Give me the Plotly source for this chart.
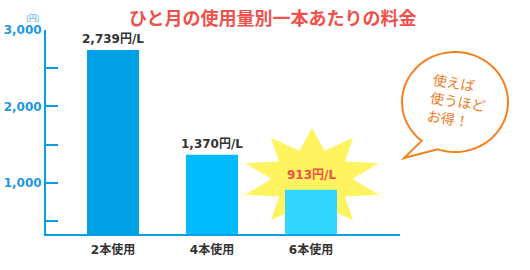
import math
import plotly.graph_objects as go

W, H = 530, 270

categories = ["2本使用", "4本使用", "6本使用"]
prices = [2739, 1370, 913]
price_labels = ["2,739円/L", "1,370円/L", "913円/L"]
bar_colors = ["#00a0e6", "#00bbff", "#33d6ff"]
label_colors = ["#333333", "#333333", "#f0504b"]
y_tickvals = [1000, 2000, 3000]
y_ticktext = ["1,000", "2,000", "3,000"]
title_text = "ひと月の使用量別一本あたりの料金"
unit_text = "(円)"
bubble_text = "使えば<br>使うほど<br>お得！"

AXIS = "#0a9fe3"
TICKFONT = "#1d97e0"
CJK = "DejaVu Sans, Noto Sans CJK JP"


def px(x, y):
    return x / W, 1 - y / H


def path_from(points, close=True):
    s = ""
    for i, (x, y) in enumerate(points):
        fx, fy = px(x, y)
        s += ("M" if i == 0 else "L") + f"{fx:.5f},{fy:.5f} "
    return s + ("Z" if close else "")


fig = go.Figure()
fig.add_trace(go.Bar(
    x=categories, y=prices, marker=dict(color=bar_colors, line=dict(width=0)),
    width=0.525, hoverinfo="skip", showlegend=False,
))

for c, v, t, col in zip(categories, prices, price_labels, label_colors):
    fig.add_annotation(
        x=c, y=v, text=t, showarrow=False, xanchor="center", yanchor="bottom",
        yshift=(6 if col != "#333333" else 2),
        font=dict(family=CJK, size=12, color=col, weight="bold"),
    )

# starburst decoration behind the cheapest bar
cx, cy, rx, ry, inner = 312, 179, 70, 51, 0.58
star = []
for k in range(20):
    ang = math.radians(90 + k * 18)
    r = 1 if k % 2 == 0 else inner
    star.append((cx + rx * r * math.cos(ang), cy - ry * r * math.sin(ang)))
shapes = [dict(type="path", xref="paper", yref="paper", path=path_from(star),
               fillcolor="#fff35f", line=dict(width=0), layer="below")]

# speech bubble
bx, by, brx, bry = 455, 102, 53, 50
pts = []
a0, a1 = 129, 109 + 360
n = 80
for i in range(n + 1):
    a = math.radians(a0 + (a1 - a0) * i / n)
    pts.append((bx + brx * math.cos(a), by + bry * math.sin(a)))
pts.append((404, 158))
shapes.append(dict(type="path", xref="paper", yref="paper", path=path_from(pts),
                   fillcolor="white", line=dict(color="#f5821f", width=2), layer="above"))
fig.update_layout(shapes=shapes)


def label(xp, yp, text, size, color, weight="normal", angle=0, family="Noto Sans CJK JP", align="center"):
    fx, fy = px(xp, yp)
    fig.add_annotation(
        x=fx, y=fy, xref="paper", yref="paper", xanchor="center", yanchor="middle",
        text=text, showarrow=False, textangle=angle, align=align,
        font=dict(family=family, size=size, color=color, weight=weight),
    )


label(458, 101, bubble_text, 14, "#f07c1e", angle=9, align="left")
label(272, 17, title_text, 18, "#f0504b", weight="bold")
label(32, 17, unit_text, 8, TICKFONT)

fig.update_layout(
    width=W, height=H, margin=dict(l=0, r=0, t=0, b=0),
    paper_bgcolor="white", plot_bgcolor="white",
    xaxis=dict(
        domain=[46 / W, 400 / W], range=[-0.677, 2.899],
        showline=True, linecolor=AXIS, linewidth=2, ticks="", showgrid=False,
        zeroline=False, fixedrange=True, automargin=False, ticklabelstandoff=4,
        tickfont=dict(family=CJK, size=12, color="#333333", weight="bold"),
    ),
    yaxis=dict(
        domain=[1 - 234 / H, 1 - 30 / H], range=[333, 3000],
        showline=True, linecolor=AXIS, linewidth=2, showgrid=False, zeroline=False,
        tickvals=y_tickvals, ticktext=y_ticktext, automargin=False,
        ticks="inside", ticklen=12, tickwidth=2, tickcolor=AXIS,
        minor=dict(ticks="inside", ticklen=12, tickwidth=2, tickcolor=AXIS,
                   dtick=500, tick0=0, showgrid=False),
        tickfont=dict(family="DejaVu Sans", size=12, color=TICKFONT, weight="bold"),
        fixedrange=True,
    ),
)

fig.write_html("out.html", config={"displayModeBar": False})
